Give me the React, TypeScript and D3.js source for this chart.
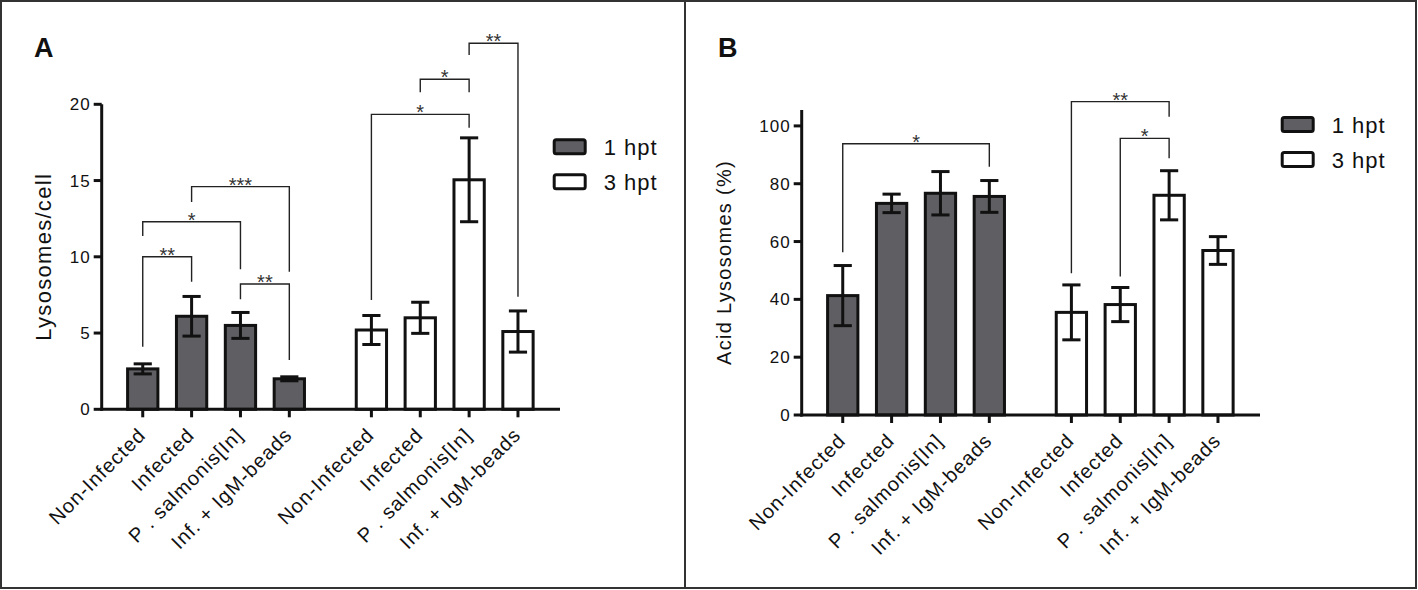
import { useEffect, useRef } from "react";
import * as d3 from "d3";

const categories = [
  "Non-Infected",
  "Infected",
  "P . salmonis[In]",
  "Inf. + IgM-beads",
];
const groups = ["1 hpt", "3 hpt"];

// Panel A: lysosomes per cell (mean, error)
const lysoMean1 = [2.65, 6.1, 5.5, 2.0];
const lysoErr1 = [0.33, 1.3, 0.85, 0.13];
const lysoMean3 = [5.2, 6.0, 15.05, 5.1];
const lysoErr3 = [0.95, 1.02, 2.75, 1.35];
const lysoTicks = [0, 5, 10, 15, 20];

// Panel B: acid lysosomes (%)
const acidMean1 = [41.3, 73.2, 76.7, 75.6];
const acidErr1 = [10.4, 3.2, 7.5, 5.5];
const acidMean3 = [35.5, 38.2, 76.0, 56.9];
const acidErr3 = [9.5, 5.9, 8.5, 4.8];
const acidTicks = [0, 20, 40, 60, 80, 100];

// significance brackets: bar index a -> b, bar height, leg ends, stars
interface Bracket {
  a: number;
  b: number;
  y: number;
  left: number;
  right: number;
  stars: string;
}

const lysoBrackets: Bracket[] = [
  { a: 0, b: 1, y: 10, left: 4.1, right: 8.37, stars: "**" },
  { a: 0, b: 2, y: 12.3, left: 11.36, right: 9.18, stars: "*" },
  { a: 1, b: 3, y: 14.6, left: 13.6, right: 9.02, stars: "***" },
  { a: 2, b: 3, y: 8.22, left: 7.21, right: 3.23, stars: "**" },
  { a: 4, b: 6, y: 19.34, left: 7.17, right: 18.47, stars: "*" },
  { a: 5, b: 6, y: 21.64, left: 20.79, right: 20.79, stars: "*" },
  { a: 6, b: 7, y: 24.0, left: 23.23, right: 7.38, stars: "**" },
];

const acidBrackets: Bracket[] = [
  { a: 0, b: 3, y: 93.8, left: 56.3, right: 85.9, stars: "*" },
  { a: 4, b: 6, y: 108.4, left: 49.0, right: 103.2, stars: "**" },
  { a: 5, b: 6, y: 95.7, left: 47.9, right: 88.8, stars: "*" },
];

const WIDTH = 1418;
const HEIGHT = 590;
const BAR_FILL = "#5f5f63";
const INK = "#111";
const BRACKET = "#222";
const FONT = "Arial, 'Liberation Sans', Helvetica, sans-serif";
const GROUP_GAP = 0.68;

// slot position of a bar; the 3 hpt block sits after a wider gap
const slot = (g: number, i: number) => g * (categories.length + GROUP_GAP) + i;
const slotOf = (k: number) =>
  slot(Math.floor(k / categories.length), k % categories.length);

interface PanelSpec {
  letter: string;
  yLabel: string;
  means: number[][];
  errs: number[][];
  ticks: number[];
  yMax: number;
  brackets: Bracket[];
  left: number;
  right: number;
  top: number;
  bottom: number;
  letterX: number;
  yLabelX: number;
  yLabelSize: number;
  legendX: number;
  legendY: number;
}

const panels: PanelSpec[] = [
  {
    letter: "A",
    yLabel: "Lysosomes/cell",
    means: [lysoMean1, lysoMean3],
    errs: [lysoErr1, lysoErr3],
    ticks: lysoTicks,
    yMax: 20,
    brackets: lysoBrackets,
    left: 101.7,
    right: 560,
    top: 104.3,
    bottom: 409.3,
    letterX: 34,
    yLabelX: 50.5,
    yLabelSize: 22,
    legendX: 552.7,
    legendY: 138.3,
  },
  {
    letter: "B",
    yLabel: "Acid Lysosomes (%)",
    means: [acidMean1, acidMean3],
    errs: [acidErr1, acidErr3],
    ticks: acidTicks,
    yMax: 105.5,
    brackets: acidBrackets,
    left: 801.7,
    right: 1260,
    top: 110,
    bottom: 415,
    letterX: 718,
    yLabelX: 730.5,
    yLabelSize: 20,
    legendX: 1280.7,
    legendY: 116,
  },
];

export default function App() {
  const svgRef = useRef<SVGSVGElement>(null);

  useEffect(() => {
    if (!svgRef.current) return;
    document.body.style.margin = "0";

    const svg = d3.select(svgRef.current);
    svg.selectAll("*").remove();
    svg.attr("width", WIDTH).attr("height", HEIGHT);

    svg
      .append("rect")
      .attr("width", WIDTH)
      .attr("height", HEIGHT)
      .attr("fill", "#fff");

    // outer frame + divider
    svg
      .append("rect")
      .attr("x", 1)
      .attr("y", 1)
      .attr("width", 1415)
      .attr("height", 587)
      .attr("fill", "none")
      .attr("stroke", "#333")
      .attr("stroke-width", 2);
    svg
      .append("line")
      .attr("x1", 685)
      .attr("x2", 685)
      .attr("y1", 1)
      .attr("y2", 588)
      .attr("stroke", "#333")
      .attr("stroke-width", 2);

    panels.forEach((p) => {
      const g = svg.append("g").attr("font-family", FONT);

      const x = d3
        .scaleLinear()
        .domain([-0.84, slot(1, 3) + 0.86])
        .range([p.left, p.right]);
      const y = d3
        .scaleLinear()
        .domain([0, p.yMax])
        .range([p.bottom, p.top]);

      const barW = (x(1) - x(0)) * 0.62;
      const capW = barW * 0.6;

      const bars = p.means.flatMap((vals, gi) =>
        vals.map((v, i) => ({
          g: gi,
          i,
          pos: slot(gi, i),
          mean: v,
          err: p.errs[gi][i],
        })),
      );

      // bars
      g.append("g")
        .selectAll("rect")
        .data(bars)
        .join("rect")
        .attr("x", (d) => x(d.pos) - barW / 2)
        .attr("y", (d) => y(d.mean))
        .attr("width", barW)
        .attr("height", (d) => y(0) - y(d.mean))
        .attr("fill", (d) => (d.g === 0 ? BAR_FILL : "#fff"))
        .attr("stroke", INK)
        .attr("stroke-width", 3);

      // error bars
      const eb = g.append("g").attr("stroke", INK).attr("stroke-width", 3);
      bars.forEach((d) => {
        const cx = x(d.pos);
        eb.append("line")
          .attr("x1", cx)
          .attr("x2", cx)
          .attr("y1", y(d.mean - d.err))
          .attr("y2", y(d.mean + d.err));
        [d.mean - d.err, d.mean + d.err].forEach((v) => {
          eb.append("line")
            .attr("x1", cx - capW / 2)
            .attr("x2", cx + capW / 2)
            .attr("y1", y(v))
            .attr("y2", y(v));
        });
      });

      // axes
      const ax = g.append("g").attr("stroke", INK).attr("stroke-width", 3);
      ax.append("line")
        .attr("x1", p.left)
        .attr("x2", p.left)
        .attr("y1", p.top)
        .attr("y2", p.bottom + 1.5);
      ax.append("line")
        .attr("x1", p.left - 1.5)
        .attr("x2", p.right)
        .attr("y1", p.bottom)
        .attr("y2", p.bottom);
      p.ticks.forEach((t) => {
        ax.append("line")
          .attr("x1", p.left - 8)
          .attr("x2", p.left)
          .attr("y1", y(t))
          .attr("y2", y(t));
        g.append("text")
          .attr("x", p.left - 11)
          .attr("y", y(t))
          .attr("dy", "0.36em")
          .attr("text-anchor", "end")
          .attr("font-size", 17)
          .attr("letter-spacing", 1)
          .attr("fill", INK)
          .text(t);
      });
      bars.forEach((d) => {
        ax.append("line")
          .attr("x1", x(d.pos))
          .attr("x2", x(d.pos))
          .attr("y1", p.bottom)
          .attr("y2", p.bottom + 8);
        g.append("text")
          .attr(
            "transform",
            `translate(${x(d.pos) - 6},${p.bottom + 17}) rotate(-45)`,
          )
          .attr("dy", "0.71em")
          .attr("text-anchor", "end")
          .attr("font-size", 20)
          .attr("letter-spacing", 1)
          .attr("fill", INK)
          .text(categories[d.i]);
      });

      // y axis label
      g.append("text")
        .attr(
          "transform",
          `translate(${p.yLabelX},${(p.top + p.bottom) / 2}) rotate(-90)`,
        )
        .attr("text-anchor", "middle")
        .attr("font-size", p.yLabelSize)
        .attr("letter-spacing", 1.3)
        .attr("fill", INK)
        .text(p.yLabel);

      // panel letter
      g.append("text")
        .attr("x", p.letterX)
        .attr("y", 57.3)
        .attr("font-size", 27)
        .attr("font-weight", "bold")
        .attr("fill", INK)
        .text(p.letter);

      // significance brackets
      const br = g.append("g");
      p.brackets.forEach((b) => {
        const xa = x(slotOf(b.a));
        const xb = x(slotOf(b.b));
        br.append("path")
          .attr("d", `M${xa},${y(b.left)}V${y(b.y)}H${xb}V${y(b.right)}`)
          .attr("fill", "none")
          .attr("stroke", BRACKET)
          .attr("stroke-width", 1.4);
        br.append("text")
          .attr("x", (xa + xb) / 2)
          .attr("y", y(b.y) + 5)
          .attr("text-anchor", "middle")
          .attr("font-size", 20)
          .attr("fill", "#333")
          .text(b.stars);
      });

      // legend
      const lg = g
        .append("g")
        .attr("transform", `translate(${p.legendX},${p.legendY})`);
      groups.forEach((name, i) => {
        const row = lg.append("g").attr("transform", `translate(0,${i * 35})`);
        row
          .append("rect")
          .attr("x", 1.5)
          .attr("y", 1.5)
          .attr("width", 31)
          .attr("height", 14)
          .attr("rx", 2)
          .attr("fill", i === 0 ? BAR_FILL : "#fff")
          .attr("stroke", INK)
          .attr("stroke-width", 3);
        row
          .append("text")
          .attr("x", 51)
          .attr("y", 16.5)
          .attr("font-size", 22)
          .attr("letter-spacing", 1)
          .attr("fill", INK)
          .text(name);
      });
    });
  }, []);

  return <svg ref={svgRef} style={{ display: "block" }} />;
}
